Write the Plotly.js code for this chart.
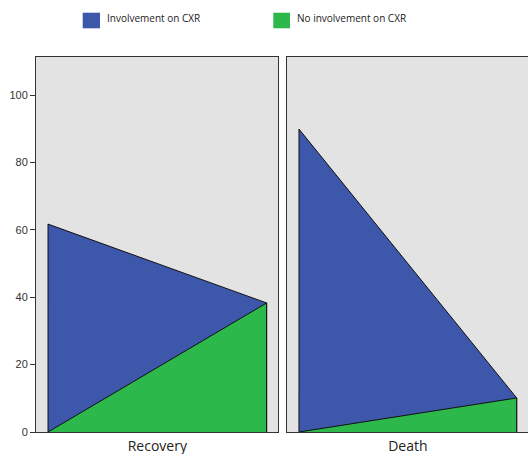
<!DOCTYPE html>
<html>
<head>
<meta charset="utf-8">
<script src="https://cdn.plot.ly/plotly-3.0.1.min.js"></script>
<style>html,body{margin:0;padding:0;background:#fff;}#chart{width:528px;height:454px;}</style>
</head>
<body>
<div id="chart"></div>
<script>
// Data
const panels = ['Recovery', 'Death'];
const seriesNames = ['Involvement on CXR', 'No involvement on CXR'];
const points = [0, 1];
const recoveryInvolvement = [61.7, 38.3];
const recoveryNoInvolvement = [0, 38.3];
const deathInvolvement = [89.9, 10.1];
const deathNoInvolvement = [0, 10.1];
const yTicks = [0, 20, 40, 60, 80, 100];

const BLUE = '#3d57ab';
const GREEN = '#2db84b';

function polygon(vals) {
  // closed area from baseline 0 up to the series line
  return {
    x: [points[0]].concat(points, [points[points.length - 1]]),
    y: [0].concat(vals, [0])
  };
}

function areaTrace(vals, color, xa, ya, name) {
  const p = polygon(vals);
  return {
    type: 'scatter', mode: 'lines', x: p.x, y: p.y,
    fill: 'toself', fillcolor: color,
    line: {color: '#111', width: 1}, name: name,
    xaxis: xa, yaxis: ya, showlegend: false, hoverinfo: 'skip'
  };
}

const data = [
  areaTrace(recoveryInvolvement, BLUE, 'x', 'y', seriesNames[0]),
  areaTrace(recoveryNoInvolvement, GREEN, 'x', 'y', seriesNames[1]),
  areaTrace(deathInvolvement, BLUE, 'x2', 'y2', seriesNames[0]),
  areaTrace(deathNoInvolvement, GREEN, 'x2', 'y2', seriesNames[1])
];

const W = 528, H = 454, L = 36, R = 0, T = 57, B = 22;
const pw = W - L - R, ph = H - T - B;
const px = v => (v - L) / pw;
const py = v => (H - B - v) / ph;

const xr = [-0.055, 1.052];
const xCommon = {
  range: xr, showgrid: false, zeroline: false, showline: true, mirror: true,
  linecolor: '#333', linewidth: 1, ticks: '', tickvals: [0.5], ticklabelstandoff: 1,
  tickfont: {family: 'Open Sans, Arial, sans-serif', size: 14, color: '#222'}
};
const yCommon = {
  range: [0, 111.3], showgrid: false, zeroline: false, showline: true, mirror: true,
  linecolor: '#333', linewidth: 1, tickvals: yTicks
};

const layout = {
  width: W, height: H,
  margin: {l: L, r: R, t: T, b: B, pad: 0},
  paper_bgcolor: '#ffffff', plot_bgcolor: '#e3e3e3',
  showlegend: false,
  font: {family: 'Arial, Liberation Sans, sans-serif', size: 11, color: '#333'},
  xaxis: Object.assign({}, xCommon, {domain: [0, px(278)], anchor: 'y', ticktext: [panels[0]]}),
  xaxis2: Object.assign({}, xCommon, {domain: [px(287), 1], anchor: 'y2', ticktext: [panels[1]]}),
  yaxis: Object.assign({}, yCommon, {anchor: 'x', ticks: 'outside', ticklen: 5, tickcolor: '#333',
    tickfont: {family: 'Arial, Liberation Sans, sans-serif', size: 11, color: '#333'}}),
  yaxis2: Object.assign({}, yCommon, {anchor: 'x2', matches: 'y', showticklabels: false, ticks: ''}),
  shapes: [
    {type: 'rect', xref: 'paper', yref: 'paper', x0: px(82.7), x1: px(100), y0: py(28.3), y1: py(12.7),
      fillcolor: BLUE, line: {width: 0}},
    {type: 'rect', xref: 'paper', yref: 'paper', x0: px(273.3), x1: px(290), y0: py(28.3), y1: py(12.7),
      fillcolor: GREEN, line: {width: 0}}
  ],
  annotations: [
    {xref: 'paper', yref: 'paper', x: px(105), y: py(18.5), xanchor: 'left', yanchor: 'middle',
      text: seriesNames[0], showarrow: false, font: {family: 'Open Sans, Arial, sans-serif', size: 10, color: '#222'}},
    {xref: 'paper', yref: 'paper', x: px(295), y: py(18.5), xanchor: 'left', yanchor: 'middle',
      text: seriesNames[1], showarrow: false, font: {family: 'Open Sans, Arial, sans-serif', size: 10, color: '#222'}}
  ]
};

Plotly.newPlot('chart', data, layout, {displayModeBar: false, staticPlot: true});
</script>
</body>
</html>
